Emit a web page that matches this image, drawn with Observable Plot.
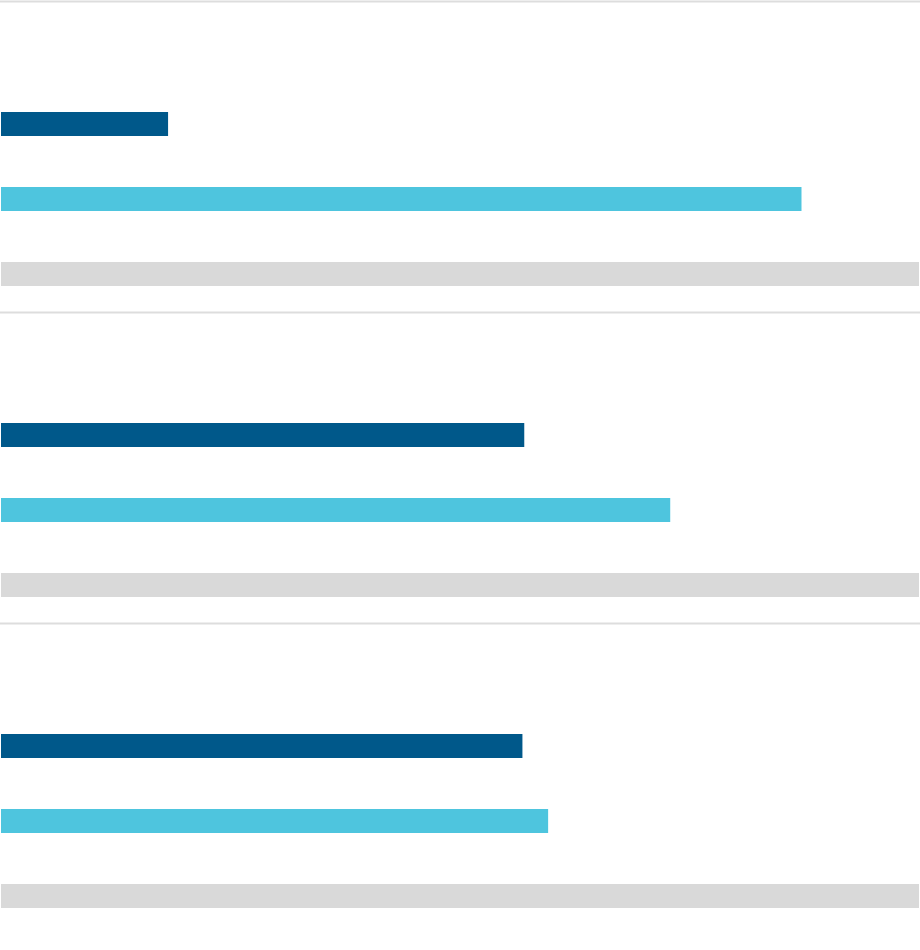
<!DOCTYPE html>
<html>
<head>
<meta charset="utf-8">
<script src="https://cdn.jsdelivr.net/npm/d3@7"></script>
<script src="https://cdn.jsdelivr.net/npm/@observablehq/plot@0.6"></script>
<style>
  html, body { margin: 0; padding: 0; background: #ffffff; }
  #chart { width: 920px; height: 950px; }
  #chart svg { display: block; }
</style>
</head>
<body>
<div id="chart"></div>
<script>
// Groups (panels), top to bottom
const groups = ["Group 1", "Group 2", "Group 3"];
// Bar series within each panel, top to bottom
const series = ["Series A", "Series B", "Reference"];
// Values (percent of full scale)
const seriesA = [18.2, 57.0, 56.8];
const seriesB = [87.2, 72.9, 59.6];
const reference = [100, 100, 100];
const seriesColors = ["#00588a", "#4ec5de", "#d9d9d9"];

const rows = [];
groups.forEach((g, i) => {
  rows.push({group: g, series: series[0], value: seriesA[i]});
  rows.push({group: g, series: series[1], value: seriesB[i]});
  rows.push({group: g, series: series[2], value: reference[i]});
});

const chart = Plot.plot({
  width: 920,
  height: 950,
  marginTop: 0,
  marginBottom: 17,
  marginLeft: 1,
  marginRight: 1,
  x: {domain: [0, 100], axis: null},
  y: {domain: series, range: [111, 286], paddingInner: 0.682, paddingOuter: 0, axis: null},
  fy: {domain: groups, padding: 0, axis: null},
  color: {domain: series, range: seriesColors},
  marks: [
    Plot.frame({anchor: "top", stroke: "#dddddd", strokeWidth: 2, insetTop: 1, insetLeft: -1, insetRight: -1}),
    Plot.barX(rows, {x: "value", y: "series", fy: "group", fill: "series"})
  ]
});
document.getElementById("chart").appendChild(chart);
</script>
</body>
</html>
